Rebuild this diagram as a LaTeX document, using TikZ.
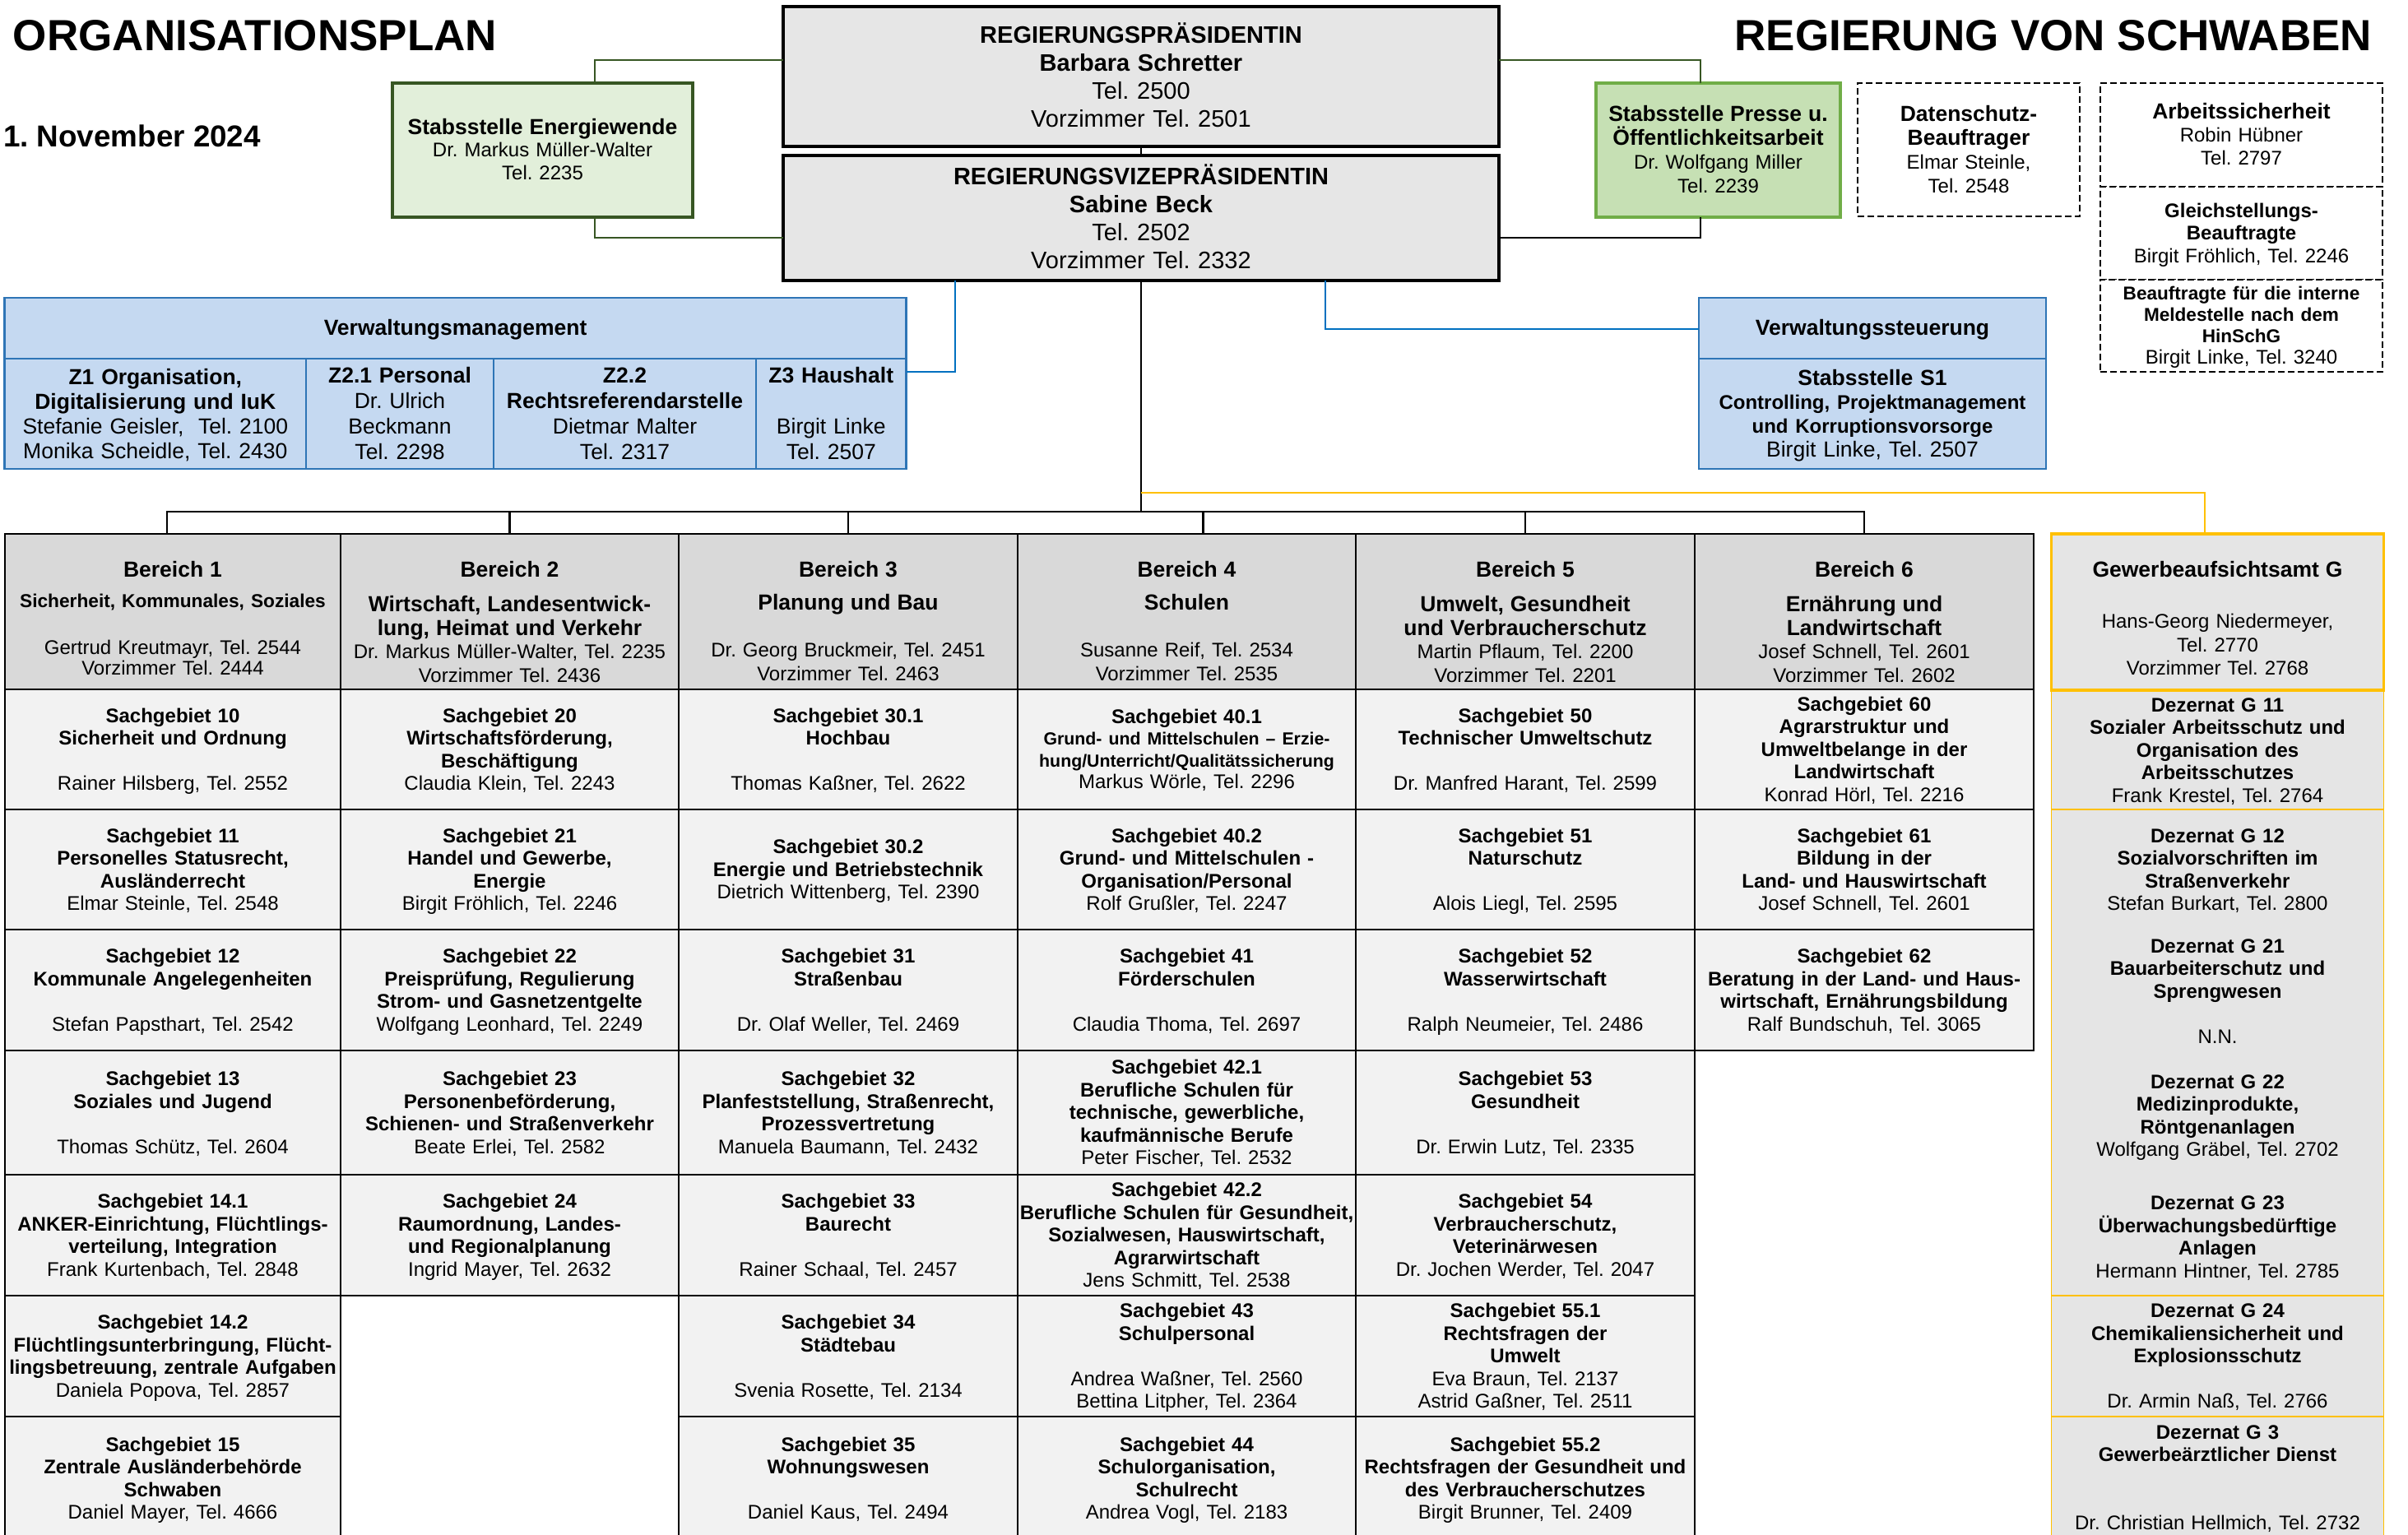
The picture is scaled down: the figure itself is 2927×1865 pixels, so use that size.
\documentclass[tikz,border=0pt]{standalone}
\usepackage{fontspec}
\setmainfont{Liberation Sans}
\usetikzlibrary{calc}
\definecolor{hdrgray}{HTML}{D9D9D9}
\definecolor{cellgray}{HTML}{F2F2F2}
\definecolor{boxgray}{HTML}{E6E6E6}
\definecolor{ggray}{HTML}{E5E5E5}
\definecolor{zblue}{HTML}{C5D9F1}
\definecolor{bline}{HTML}{2E75B6}
\definecolor{cline}{HTML}{0070C0}
\definecolor{dgreen}{HTML}{375623}
\definecolor{lgreen}{HTML}{E2EFDA}
\definecolor{mgreen}{HTML}{C6E0B4}
\definecolor{pgreen}{HTML}{70AD47}
\definecolor{gold}{HTML}{FFC000}
\newcommand\myfs[2]{\fontsize{#1}{#2}\selectfont}
\newcommand\mytops{\rule{0pt}{0.8\baselineskip}}
\newcommand\mybots{\rule[-0.2\baselineskip]{0pt}{0.2\baselineskip}}
\newcommand\myel{\mbox{}}
\newcommand\myhb[1]{{\myfs{13.25}{16}\bfseries #1}}
\newcommand\mytb[1]{\textbf{#1}}
\newcommand\mybx[6]{\node[#6, minimum width={(#4-#2)*0.5pt}, minimum height={(#5-#3)*0.5pt}] (#1) at ({(#2+#4)/2},{(#3+#5)/2}) {};}
\newcommand\mysg[6]{\mybx{#1}{#2}{#3}{#4}{#5}{sgcell}\node[txt] (#1t) at (#1.center) {#6};}
\newcommand\mygc[4]{\mybx{#1}{2493.5}{#2}{2897.5}{#3}{gcell}\node[txt] (#1t) at (#1.center) {#4};}
\newcommand\myhd[4]{\mybx{#1}{#2}{649}{#3}{838}{hdcell}\node[hdtxt] (#1t) at ({(#2+#3)/2},679) {#4};}
\begin{document}
\frenchspacing
\begin{tikzpicture}[x=0.5pt,y=-0.5pt,
  every node/.style={inner sep=0pt,outer sep=0pt},
  presbox/.style={draw=black, line width=1.6pt, fill=boxgray},
  egbox/.style={draw=dgreen, line width=1.6pt, fill=lgreen},
  prbox/.style={draw=pgreen, line width=1.6pt, fill=mgreen},
  dbox/.style={draw=black, dash pattern=on 4pt off 2pt, line width=1.1pt, fill=white},
  zbox/.style={draw=bline, line width=1.3pt, fill=zblue},
  hdcell/.style={draw=black, line width=1.3pt, fill=hdrgray},
  sgcell/.style={draw=black, line width=1.3pt, fill=cellgray},
  ghead/.style={draw=gold, line width=1.6pt, fill=ggray},
  gcell/.style={fill=ggray},
  txt/.style={text width=260pt, align=center, font=\myfs{12}{13.75}\frenchspacing, execute at begin node=\mytops, execute at end node=\mybots},
  hdtxt/.style={txt, font=\myfs{12}{14.25}\frenchspacing, anchor=north},
  conn/.style={draw=black, line width=1.2pt},
  grn/.style={draw=dgreen, line width=1.2pt},
  blu/.style={draw=cline, line width=1.2pt},
  yel/.style={draw=gold, line width=1.4pt},
  gthin/.style={draw=gold, line width=0.6pt}]
\useasboundingbox (0,0) rectangle (2927,1865);
\fill[white] (0,0) rectangle (2927,1865);
\clip (0,0) rectangle (2927,1865);

% titles
\node[anchor=base west, font=\myfs{26.5}{30}\bfseries] (title) at (16,61) {ORGANISATIONSPLAN};
\node[anchor=base east, font=\myfs{26.5}{30}\bfseries] (rvs) at (2883,61) {REGIERUNG VON SCHWABEN};
\node[anchor=base west, font=\myfs{18.4}{22}\bfseries] (date) at (4,178) {1. November 2024};

% leadership
\mybx{pres}{952}{8}{1822}{178}{presbox}
\node[txt, font=\myfs{14.5}{17}\frenchspacing] (prest) at (pres.center) {\mytb{REGIERUNGSPRÄSIDENTIN}\\\mytb{Barbara Schretter}\\Tel. 2500\\Vorzimmer Tel. 2501};
\mybx{vize}{952}{189}{1822}{341}{presbox}
\node[txt, font=\myfs{14.5}{17}\frenchspacing] (vizet) at (vize.center) {\mytb{REGIERUNGSVIZEPRÄSIDENTIN}\\\mytb{Sabine Beck}\\Tel. 2502\\Vorzimmer Tel. 2332};

% staff units
\mybx{energie}{477}{101}{842}{264}{egbox}
\node[txt] (energiet) at (energie.center) {\myhb{Stabsstelle Energiewende}\\Dr. Markus Müller-Walter\\Tel. 2235};
\mybx{presse}{1940}{101}{2237}{264}{prbox}
\node[txt, font=\myfs{12}{14.5}\frenchspacing] (presset) at (presse.center) {\myhb{Stabsstelle Presse u.}\\\myhb{Öffentlichkeitsarbeit}\\Dr. Wolfgang Miller\\Tel. 2239};
\mybx{daten}{2258}{101}{2528}{263}{dbox}
\node[txt, font=\myfs{12}{14.5}\frenchspacing] (datent) at (daten.center) {\myhb{Datenschutz-}\\\myhb{Beauftrager}\\Elmar Steinle,\\Tel. 2548};
\mybx{arb}{2553}{101}{2896}{227}{dbox}
\node[txt, font=\myfs{12}{14}\frenchspacing] (arbt) at (arb.center) {\myhb{Arbeitssicherheit}\\Robin Hübner\\Tel. 2797};
\mybx{gleich}{2553}{227}{2896}{340}{dbox}
\node[txt] (gleicht) at (gleich.center) {\mytb{Gleichstellungs-}\\\mytb{Beauftragte}\\Birgit Fröhlich, Tel. 2246};
\mybx{hin}{2553}{340}{2896}{452}{dbox}
\node[txt, font=\myfs{12}{13}\frenchspacing] (hint) at (hin.center) {{\myfs{11.3}{13}\bfseries Beauftragte für die interne}\\{\myfs{11.3}{13}\bfseries Meldestelle nach dem}\\{\myfs{11.3}{13}\bfseries HinSchG}\\Birgit Linke, Tel. 3240};

% Verwaltungsmanagement
\mybx{vm}{5.6}{362}{1101.5}{436}{zbox}
\node[txt] (vmt) at (vm.center) {\myhb{Verwaltungsmanagement}};
\mybx{z1}{5.6}{436}{372}{570}{zbox}
\node[txt, font=\myfs{13.25}{15}\frenchspacing] (z1t) at (z1.center) {\mytb{Z1 Organisation,}\\\mytb{Digitalisierung und IuK}\\Stefanie Geisler,\ \ Tel. 2100\\Monika Scheidle, Tel. 2430};
\mybx{z21}{372}{436}{600}{570}{zbox}
\node[txt, font=\myfs{13.25}{15.5}\frenchspacing] (z21t) at (z21.center) {\mytb{Z2.1 Personal}\\Dr. Ulrich\\Beckmann\\Tel. 2298};
\mybx{z22}{600}{436}{919}{570}{zbox}
\node[txt, font=\myfs{13.25}{15.5}\frenchspacing] (z22t) at (z22.center) {\mytb{Z2.2}\\\mytb{Rechtsreferendarstelle}\\Dietmar Malter\\Tel. 2317};
\mybx{z3}{919}{436}{1101.5}{570}{zbox}
\node[txt, font=\myfs{13.25}{15.5}\frenchspacing] (z3t) at (z3.center) {\mytb{Z3 Haushalt}\\\myel\\Birgit Linke\\Tel. 2507};

% Verwaltungssteuerung
\mybx{vs}{2065}{362}{2487}{436}{zbox}
\node[txt] (vst) at (vs.center) {\myhb{Verwaltungssteuerung}};
\mybx{s1}{2065}{436}{2487}{570}{zbox}
\node[txt, font=\myfs{13.25}{14.5}\frenchspacing] (s1t) at (s1.center) {\mytb{Stabsstelle S1}\\{\myfs{12}{14}\bfseries Controlling, Projektmanagement}\\{\myfs{12}{14}\bfseries und Korruptionsvorsorge}\\Birgit Linke, Tel. 2507};

% Bereich headers
\myhd{b1}{6}{414}{\myhb{Bereich 1}\\[4pt]{\myfs{11.35}{13}\bfseries Sicherheit, Kommunales, Soziales}\\\myel\\Gertrud Kreutmayr, Tel. 2544\\[-1.5pt]Vorzimmer Tel. 2444}
\myhd{b2}{414}{825}{\myhb{Bereich 2}\\[6.75pt]\myhb{Wirtschaft, Landesentwick-}\\\myhb{lung, Heimat und Verkehr}\\Dr. Markus Müller-Walter, Tel. 2235\\Vorzimmer Tel. 2436}
\myhd{b3}{825}{1237}{\myhb{Bereich 3}\\[5.75pt]\myhb{Planung und Bau}\\\myel\\Dr. Georg Bruckmeir, Tel. 2451\\Vorzimmer Tel. 2463}
\myhd{b4}{1237}{1648}{\myhb{Bereich 4}\\[5.75pt]\myhb{Schulen}\\\myel\\Susanne Reif, Tel. 2534\\Vorzimmer Tel. 2535}
\myhd{b5}{1648}{2060}{\myhb{Bereich 5}\\[6.75pt]\myhb{Umwelt, Gesundheit}\\\myhb{und Verbraucherschutz}\\Martin Pflaum, Tel. 2200\\Vorzimmer Tel. 2201}
\myhd{b6}{2060}{2472}{\myhb{Bereich 6}\\[6.75pt]\myhb{Ernährung und}\\\myhb{Landwirtschaft}\\Josef Schnell, Tel. 2601\\Vorzimmer Tel. 2602}

% Column 1
\mysg{s10}{6}{838}{414}{984}{\mytb{Sachgebiet 10}\\\mytb{Sicherheit und Ordnung}\\\myel\\Rainer Hilsberg, Tel. 2552}
\mysg{s11}{6}{984}{414}{1130}{\mytb{Sachgebiet 11}\\\mytb{Personelles Statusrecht,}\\\mytb{Ausländerrecht}\\Elmar Steinle, Tel. 2548}
\mysg{s12}{6}{1130}{414}{1277}{\mytb{Sachgebiet 12}\\\mytb{Kommunale Angelegenheiten}\\\myel\\Stefan Papsthart, Tel. 2542}
\mysg{s13}{6}{1277}{414}{1428}{\mytb{Sachgebiet 13}\\\mytb{Soziales und Jugend}\\\myel\\Thomas Schütz, Tel. 2604}
\mysg{s141}{6}{1428}{414}{1575}{\mytb{Sachgebiet 14.1}\\\mytb{ANKER-Einrichtung, Flüchtlings-}\\\mytb{verteilung, Integration}\\Frank Kurtenbach, Tel. 2848}
\mysg{s142}{6}{1575}{414}{1722}{\mytb{Sachgebiet 14.2}\\\mytb{Flüchtlingsunterbringung, Flücht-}\\\mytb{lingsbetreuung, zentrale Aufgaben}\\Daniela Popova, Tel. 2857}
\mysg{s15}{6}{1722}{414}{1872}{\mytb{Sachgebiet 15}\\\mytb{Zentrale Ausländerbehörde}\\\mytb{Schwaben}\\Daniel Mayer, Tel. 4666}

% Column 2
\mysg{s20}{414}{838}{825}{984}{\mytb{Sachgebiet 20}\\\mytb{Wirtschaftsförderung,}\\\mytb{Beschäftigung}\\Claudia Klein, Tel. 2243}
\mysg{s21}{414}{984}{825}{1130}{\mytb{Sachgebiet 21}\\\mytb{Handel und Gewerbe,}\\\mytb{Energie}\\Birgit Fröhlich, Tel. 2246}
\mysg{s22}{414}{1130}{825}{1277}{\mytb{Sachgebiet 22}\\\mytb{Preisprüfung, Regulierung}\\\mytb{Strom- und Gasnetzentgelte}\\Wolfgang Leonhard, Tel. 2249}
\mysg{s23}{414}{1277}{825}{1428}{\mytb{Sachgebiet 23}\\\mytb{Personenbeförderung,}\\\mytb{Schienen- und Straßenverkehr}\\Beate Erlei, Tel. 2582}
\mysg{s24}{414}{1428}{825}{1575}{\mytb{Sachgebiet 24}\\\mytb{Raumordnung, Landes-}\\\mytb{und Regionalplanung}\\Ingrid Mayer, Tel. 2632}

% Column 3
\mysg{s301}{825}{838}{1237}{984}{\mytb{Sachgebiet 30.1}\\\mytb{Hochbau}\\\myel\\Thomas Kaßner, Tel. 2622}
\mysg{s302}{825}{984}{1237}{1130}{\mytb{Sachgebiet 30.2}\\\mytb{Energie und Betriebstechnik}\\Dietrich Wittenberg, Tel. 2390}
\mysg{s31}{825}{1130}{1237}{1277}{\mytb{Sachgebiet 31}\\\mytb{Straßenbau}\\\myel\\Dr. Olaf Weller, Tel. 2469}
\mysg{s32}{825}{1277}{1237}{1428}{\mytb{Sachgebiet 32}\\\mytb{Planfeststellung, Straßenrecht,}\\\mytb{Prozessvertretung}\\Manuela Baumann, Tel. 2432}
\mysg{s33}{825}{1428}{1237}{1575}{\mytb{Sachgebiet 33}\\\mytb{Baurecht}\\\myel\\Rainer Schaal, Tel. 2457}
\mysg{s34}{825}{1575}{1237}{1722}{\mytb{Sachgebiet 34}\\\mytb{Städtebau}\\\myel\\Svenia Rosette, Tel. 2134}
\mysg{s35}{825}{1722}{1237}{1872}{\mytb{Sachgebiet 35}\\\mytb{Wohnungswesen}\\\myel\\Daniel Kaus, Tel. 2494}

% Column 4
\mybx{s401}{1237}{838}{1648}{984}{sgcell}
\node[txt, font=\myfs{12}{13.25}\frenchspacing] (s401t) at (s401.center) {\mytb{Sachgebiet 40.1}\\{\myfs{10.65}{12}\bfseries Grund- und Mittelschulen – Erzie-}\\{\myfs{10.65}{12}\bfseries hung/Unterricht/Qualitätssicherung}\\Markus Wörle, Tel. 2296};
\mysg{s402}{1237}{984}{1648}{1130}{\mytb{Sachgebiet 40.2}\\\mytb{Grund- und Mittelschulen -}\\\mytb{Organisation/Personal}\\Rolf Grußler, Tel. 2247}
\mysg{s41}{1237}{1130}{1648}{1277}{\mytb{Sachgebiet 41}\\\mytb{Förderschulen}\\\myel\\Claudia Thoma, Tel. 2697}
\mysg{s421}{1237}{1277}{1648}{1428}{\mytb{Sachgebiet 42.1}\\\mytb{Berufliche Schulen für}\\\mytb{technische, gewerbliche,}\\\mytb{kaufmännische Berufe}\\Peter Fischer, Tel. 2532}
\mysg{s422}{1237}{1428}{1648}{1575}{\mytb{Sachgebiet 42.2}\\\mytb{Berufliche Schulen für Gesundheit,}\\\mytb{Sozialwesen, Hauswirtschaft,}\\\mytb{Agrarwirtschaft}\\Jens Schmitt, Tel. 2538}
\mysg{s43}{1237}{1575}{1648}{1722}{\mytb{Sachgebiet 43}\\\mytb{Schulpersonal}\\\myel\\Andrea Waßner, Tel. 2560\\Bettina Litpher, Tel. 2364}
\mysg{s44}{1237}{1722}{1648}{1872}{\mytb{Sachgebiet 44}\\\mytb{Schulorganisation,}\\\mytb{Schulrecht}\\Andrea Vogl, Tel. 2183}

% Column 5
\mysg{s50}{1648}{838}{2060}{984}{\mytb{Sachgebiet 50}\\\mytb{Technischer Umweltschutz}\\\myel\\Dr. Manfred Harant, Tel. 2599}
\mysg{s51}{1648}{984}{2060}{1130}{\mytb{Sachgebiet 51}\\\mytb{Naturschutz}\\\myel\\Alois Liegl, Tel. 2595}
\mysg{s52}{1648}{1130}{2060}{1277}{\mytb{Sachgebiet 52}\\\mytb{Wasserwirtschaft}\\\myel\\Ralph Neumeier, Tel. 2486}
\mysg{s53}{1648}{1277}{2060}{1428}{\mytb{Sachgebiet 53}\\\mytb{Gesundheit}\\\myel\\Dr. Erwin Lutz, Tel. 2335}
\mysg{s54}{1648}{1428}{2060}{1575}{\mytb{Sachgebiet 54}\\\mytb{Verbraucherschutz,}\\\mytb{Veterinärwesen}\\Dr. Jochen Werder, Tel. 2047}
\mysg{s551}{1648}{1575}{2060}{1722}{\mytb{Sachgebiet 55.1}\\\mytb{Rechtsfragen der}\\\mytb{Umwelt}\\Eva Braun, Tel. 2137\\Astrid Gaßner, Tel. 2511}
\mysg{s552}{1648}{1722}{2060}{1872}{\mytb{Sachgebiet 55.2}\\\mytb{Rechtsfragen der Gesundheit und}\\\mytb{des Verbraucherschutzes}\\Birgit Brunner, Tel. 2409}

% Column 6
\mysg{s60}{2060}{838}{2472}{984}{\mytb{Sachgebiet 60}\\\mytb{Agrarstruktur und}\\\mytb{Umweltbelange in der}\\\mytb{Landwirtschaft}\\Konrad Hörl, Tel. 2216}
\mysg{s61}{2060}{984}{2472}{1130}{\mytb{Sachgebiet 61}\\\mytb{Bildung in der}\\\mytb{Land- und Hauswirtschaft}\\Josef Schnell, Tel. 2601}
\mysg{s62}{2060}{1130}{2472}{1277}{\mytb{Sachgebiet 62}\\\mytb{Beratung in der Land- und Haus-}\\\mytb{wirtschaft, Ernährungsbildung}\\Ralf Bundschuh, Tel. 3065}

% Gewerbeaufsichtsamt
\mygc{g11}{840}{984}{\mytb{Dezernat G 11}\\\mytb{Sozialer Arbeitsschutz und}\\\mytb{Organisation des}\\\mytb{Arbeitsschutzes}\\Frank Krestel, Tel. 2764}
\mygc{g12}{984}{1130}{\mytb{Dezernat G 12}\\\mytb{Sozialvorschriften im}\\\mytb{Straßenverkehr}\\Stefan Burkart, Tel. 2800}
\mygc{g21}{1130}{1280}{\mytb{Dezernat G 21}\\\mytb{Bauarbeiterschutz und}\\\mytb{Sprengwesen}\\\myel\\N.N.}
\mygc{g22}{1280}{1432}{\mytb{Dezernat G 22}\\\mytb{Medizinprodukte,}\\\mytb{Röntgenanlagen}\\Wolfgang Gräbel, Tel. 2702}
\mygc{g23}{1432}{1575}{\mytb{Dezernat G 23}\\\mytb{Überwachungsbedürftige}\\\mytb{Anlagen}\\Hermann Hintner, Tel. 2785}
\mygc{g24}{1575}{1722}{\mytb{Dezernat G 24}\\\mytb{Chemikaliensicherheit und}\\\mytb{Explosionsschutz}\\\myel\\Dr. Armin Naß, Tel. 2766}
\mygc{g3}{1722}{1870}{\mytb{Dezernat G 3}\\\mytb{Gewerbeärztlicher Dienst}\\\myel\\\myel\\Dr. Christian Hellmich, Tel. 2732}
\draw[gthin] (g11.north west) -- (g3.south west);
\draw[gthin] (g11.north east) -- (g3.south east);
\draw[gthin] (g11.south west) -- (g11.south east);
\draw[gthin] (g23.south west) -- (g23.south east);
\draw[gthin] (g24.south west) -- (g24.south east);
\mybx{gh}{2493.5}{649}{2897.5}{839}{ghead}
\node[hdtxt] (ght) at (2695.5,679) {\myhb{Gewerbeaufsichtsamt G}\\[2.5pt]\myel\\Hans-Georg Niedermeyer,\\Tel. 2770\\Vorzimmer Tel. 2768};

% connectors
\coordinate (bus) at (1387,622);
\draw[conn] (pres.south) -- (vize.north);
\draw[conn] (vize.south) -- (bus);
\draw[conn] ([xshift=-3.5pt]b1.north) -- ([xshift=-3.5pt]b1.north |- bus) -- (b6.north |- bus) -- (b6.north);
\foreach \b in {b2,b3,b5} \draw[conn] (\b.north |- bus) -- (\b.north);
\draw[conn] ([xshift=10pt]b4.north |- bus) -- ([xshift=10pt]b4.north);
\coordinate (yc) at (2680,599);
\draw[yel] (bus |- yc) -- (yc) -- (yc |- gh.north);
\coordinate (blc) at (1161,452);
\draw[blu] (vize.south -| blc) -- (blc) -- (blc -| z3.east);
\coordinate (brc) at (1611,400);
\draw[blu] (vize.south -| brc) -- (brc) -- (brc -| vs.west);
\coordinate (ga) at (723,73);
\draw[grn] (energie.north -| ga) -- (ga) -- (ga -| pres.west);
\coordinate (gb) at (723,289);
\draw[grn] (energie.south -| gb) -- (gb) -- (gb -| vize.west);
\coordinate (gc) at (2067,73);
\draw[grn] (presse.north -| gc) -- (gc) -- (gc -| pres.east);
\coordinate (gd) at (2067,289);
\draw[conn] (presse.south -| gd) -- (gd) -- (gd -| vize.east);
\end{tikzpicture}
\end{document}
